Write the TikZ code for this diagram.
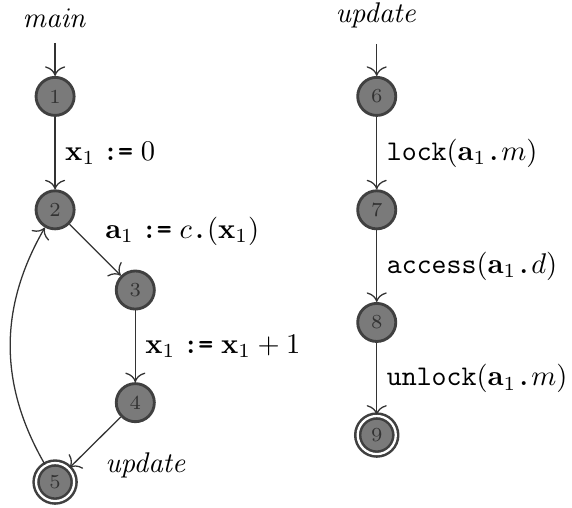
\documentclass[tikz,border=0pt]{standalone}
\usepackage{tikz}
\usepackage{amsmath}
\usepackage{amssymb}
\usetikzlibrary{arrows.meta}

\newcommand{\asg}{\mathrel{\texttt{\bfseries :=}}}
\newcommand{\dt}{\texttt{\bfseries .}}

\tikzset{
	state/.style={circle, draw=black!75, fill=black!52, line width=1pt, minimum size=0.47cm, inner sep=0pt, font=\scriptsize, text=black!80},
	final/.style={state, double=white, double distance=0.8pt, line width=0.9pt},
	trans/.style={-{To[scale=1.3]}, draw=black!80, line width=0.45pt}
}

\begin{document}
\begin{tikzpicture}
	\useasboundingbox (0,0) rectangle (7.06,6.27);
	\node at (0.68,6.05) (lmain) {$\mathit{main}$};
	\node at (4.65,6.08) (lupd) {$\mathit{update}$};
	\node at (0.68,5.08) [state] (n1) {1};
	\node at (0.68,3.68) [state] (n2) {2};
	\node at (1.67,2.69) [state] (n3) {3};
	\node at (1.67,1.30) [state] (n4) {4};
	\node at (0.68,0.32) [final] (n5) {5};
	\node at (4.65,5.08) [state] (n6) {6};
	\node at (4.65,3.68) [state] (n7) {7};
	\node at (4.65,2.29) [state] (n8) {8};
	\node at (4.65,0.90) [final] (n9) {9};

	\draw [trans, shorten <=2pt] (lmain) -- (n1);
	\draw [trans] (n1) -- (n2) node[midway, right] {$\mathbf{x}_1 \asg 0$};
	\draw [trans] (n2) -- (n3) node[midway, above right, xshift=0pt, yshift=-2pt] {$\mathbf{a}_1 \asg c\dt(\mathbf{x}_1)$};
	\draw [trans] (n3) -- (n4) node[midway, right] {$\mathbf{x}_1 \asg \mathbf{x}_1 + 1$};
	\draw [trans] (n4) -- (n5) node[midway, below right] {$\mathit{update}$};
	\draw [trans] (n5) to[bend left=30] (n2);

	\draw [trans, shorten <=2pt] (lupd) -- (n6);
	\draw [trans] (n6) -- (n7) node[midway, right] {\texttt{lock}$(\mathbf{a}_1\dt m)$};
	\draw [trans] (n7) -- (n8) node[midway, right] {\texttt{access}$(\mathbf{a}_1\dt d)$};
	\draw [trans] (n8) -- (n9) node[midway, right] {\texttt{unlock}$(\mathbf{a}_1\dt m)$};
\end{tikzpicture}
\end{document}
